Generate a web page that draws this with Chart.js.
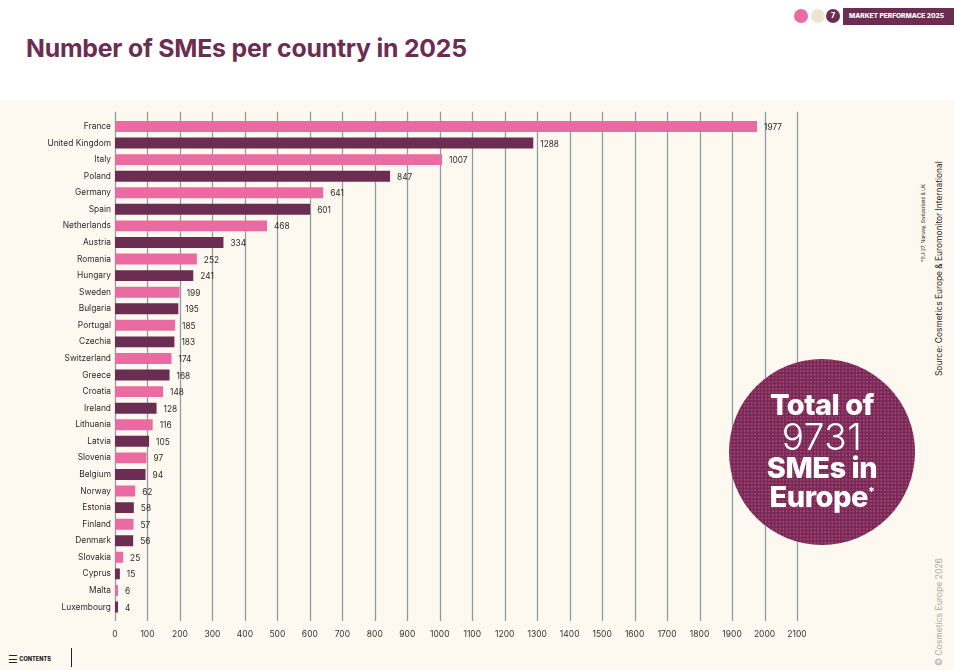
<!DOCTYPE html>
<html><head><meta charset="utf-8">
<script src="https://cdn.jsdelivr.net/npm/chart.js@4"></script>
<style>
html,body{margin:0;padding:0;width:954px;height:670px;overflow:hidden;background:#fff;font-family:Inter,"Noto Sans",sans-serif;}
#cream{position:absolute;left:0;top:100px;width:954px;height:570px;background:#FEF9F0;}
#title{position:absolute;left:26px;top:33px;font-size:24.8px;font-weight:700;color:#6B2D52;letter-spacing:-0.2px;white-space:nowrap;}
.dot{position:absolute;border-radius:50%;width:14px;height:14px;top:9px;}
#badge{position:absolute;left:843px;top:8px;width:111px;height:17px;background:#6B2D52;color:#fff;font-size:6.6px;font-weight:800;line-height:17px;padding-left:6px;box-sizing:border-box;white-space:nowrap;}
#wrap{position:absolute;left:0;top:100px;width:830px;height:546px;}
#big{position:absolute;left:729px;top:359px;width:186px;height:186px;border-radius:50%;
 background-color:#762A55;background-image:radial-gradient(circle,#A84478 0.7px,transparent 1px);background-size:3.5px 3.5px;
 color:#fff;text-align:center;}
#big .b{font-weight:800;font-size:29px;line-height:30px;letter-spacing:-0.5px;}
#big .n{font-weight:300;font-size:37px;line-height:33px;letter-spacing:0.5px;}
.rot{position:absolute;transform-origin:0 0;transform:rotate(-90deg);white-space:nowrap;}
#contents{position:absolute;left:8px;top:652px;font-size:5.6px;font-weight:800;color:#222;}
#vline{position:absolute;left:71px;top:648px;width:1px;height:19px;background:#222;}
</style></head><body>
<div id="cream"></div>
<div id="title">Number of SMEs per country in 2025</div>
<div class="dot" style="left:794px;background:#E96BA2"></div>
<div class="dot" style="left:811px;background:#EDE6D3"></div>
<div class="dot" style="left:826px;background:#6B2D52;color:#fff;font-size:7px;font-weight:800;text-align:center;line-height:14px">7</div>
<div id="badge">MARKET PERFORMACE 2025</div>
<div id="wrap"><canvas id="c"></canvas></div>
<div id="big">
 <div class="b" style="margin-top:31px">Total of</div>
 <div class="n">9731</div>
 <div class="b">SMEs in</div>
 <div class="b" style="line-height:27px">Europe<sup style="font-size:12px;vertical-align:top;line-height:18px">*</sup></div>
</div>
<div class="rot" style="left:920px;top:262px;font-size:4.8px;color:#222;">*EU-27, Norway, Switzerland &amp; UK</div>
<div class="rot" style="left:934px;top:376px;font-size:8.4px;color:#222;">Source: Cosmetics Europe &amp; Euromonitor International</div>
<div class="rot" style="left:934px;top:666px;font-size:8.6px;color:#A8A8A8;">© Cosmetics Europe 2026</div>
<div id="contents"><span style="font-size:11px;vertical-align:-2px;font-weight:400">☰</span> CONTENTS</div>
<div id="vline"></div>
<script>
const countries = ["France","United Kingdom","Italy","Poland","Germany","Spain","Netherlands","Austria","Romania","Hungary","Sweden","Bulgaria","Portugal","Czechia","Switzerland","Greece","Croatia","Ireland","Lithuania","Latvia","Slovenia","Belgium","Norway","Estonia","Finland","Denmark","Slovakia","Cyprus","Malta","Luxembourg"];
const smes = [1977,1288,1007,847,641,601,468,334,252,241,199,195,185,183,174,168,148,128,116,105,97,94,62,58,57,56,25,15,6,4];
const xTicks = [0,100,200,300,400,500,600,700,800,900,1000,1100,1200,1300,1400,1500,1600,1700,1800,1900,2000,2100];
const PINK = "#E96BA2", PURPLE = "#6B2D52";

const gridPlugin = {
  id:'grid',
  beforeDatasetsDraw(chart){
    const {ctx, chartArea:a, scales:{x}} = chart;
    ctx.save();
    ctx.strokeStyle = "#8E9CA6"; ctx.lineWidth = 1.3;
    xTicks.forEach(v=>{
      const px = Math.round(x.getPixelForValue(v))+0.5;
      ctx.beginPath(); ctx.moveTo(px, a.top-6.5); ctx.lineTo(px, a.bottom+5.7); ctx.stroke();
    });
    ctx.restore();
  }
};
const valPlugin = {
  id:'vals',
  afterDatasetsDraw(chart){
    const {ctx} = chart;
    const meta = chart.getDatasetMeta(0);
    ctx.save();
    ctx.font = "8.3px Inter, 'Noto Sans', sans-serif";
    ctx.fillStyle = "#2B2B2B"; ctx.textBaseline = "middle"; ctx.textAlign = "left";
    meta.data.forEach((bar,i)=>{
      ctx.fillText(String(smes[i]), Math.max(bar.x, bar.base+3) + 7, bar.y+1);
    });
    ctx.restore();
  }
};

new Chart(document.getElementById('c'), {
  type:'bar',
  data:{labels:countries, datasets:[{data:smes, backgroundColor:countries.map((_,i)=>i%2?PURPLE:PINK), barPercentage:0.66, categoryPercentage:1, minBarLength:3, borderWidth:0}]},
  options:{
    indexAxis:'y', responsive:true, maintainAspectRatio:false, animation:false,
    layout:{padding:{top:18.2,right:33,bottom:0,left:0}},
    plugins:{legend:{display:false}, tooltip:{enabled:false}},
    scales:{
      x:{min:0,max:2100, grid:{display:false}, border:{display:false},
         afterBuildTicks(s){ s.ticks = xTicks.map(v=>({value:v})); },
         afterFit(s){ s.height = 30.7; },
         ticks:{padding:6, color:"#333", font:{size:8.5, family:"Inter, 'Noto Sans', sans-serif"}, maxRotation:0, autoSkip:false, callback:(v)=>String(v)}},
      y:{grid:{display:false, drawTicks:false}, border:{display:false},
         afterFit(s){ s.width = 115; },
         ticks:{padding:4, color:"#2B2B2B", font:{size:8.4, family:"Inter, 'Noto Sans', sans-serif"}, autoSkip:false}}
    }
  },
  plugins:[gridPlugin, valPlugin]
});
</script>
</body></html>
